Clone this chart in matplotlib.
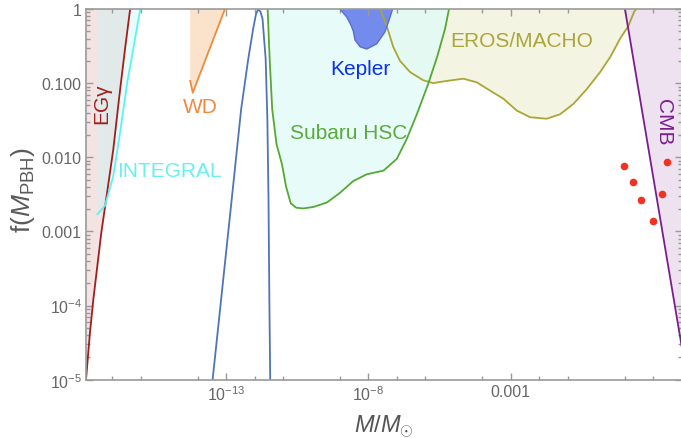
import numpy as np
import matplotlib
matplotlib.use("Agg")
import matplotlib.pyplot as plt
from matplotlib.ticker import FixedLocator, LogLocator, NullFormatter

plt.rcParams['font.family'] = ['Liberation Sans', 'DejaVu Sans']
plt.rcParams['mathtext.fontset'] = 'custom'
plt.rcParams['mathtext.rm'] = 'Liberation Sans'
plt.rcParams['mathtext.it'] = 'Liberation Sans:italic'
plt.rcParams['mathtext.bf'] = 'Liberation Sans:bold'

# all values below are log10(M/Msun), log10(f)
egamma_m = [-17.92, -17.78, -17.66, -17.52, -17.38, -17.21, -16.96, -16.76, -16.55, -16.37]
egamma_f = [-5.0, -4.36, -3.91, -3.46, -3.01, -2.56, -1.89, -1.21, -0.54, 0.0]

integral_m = [-17.52, -17.25, -16.96, -16.72, -16.47, -16.26, -16.12, -16.01]
integral_f = [-2.77, -2.65, -2.25, -1.66, -0.99, -0.54, -0.23, 0.0]

wd_m = [-14.26, -14.17, -13.04]
wd_f = [-0.97, -1.13, 0.0]

peak_m = [-13.47, -12.80, -12.47, -12.22, -12.05, -11.95, -11.87,
          -11.79, -11.72, -11.61, -11.55, -11.51, -11.48, -11.45]
peak_f = [-4.99, -2.56, -1.35, -0.67, -0.27, -0.07, 0.0,
          -0.04, -0.13, -0.67, -1.48, -2.56, -3.91, -4.99]

subaru_m = [-11.54, -11.47, -11.38, -11.23, -11.04, -10.89, -10.73, -10.54, -10.29, -9.93, -9.46,
            -9.00, -8.53, -8.06, -7.47, -7.00, -6.65, -6.30, -5.90, -5.59, -5.31, -5.17]
subaru_f = [0.0, -0.67, -1.35, -1.82, -2.09, -2.40, -2.62, -2.68, -2.69, -2.67, -2.61,
            -2.48, -2.32, -2.23, -2.18, -2.02, -1.75, -1.42, -1.01, -0.65, -0.27, 0.0]

kepler_m = [-9.00, -8.76, -8.61, -8.53, -8.47, -8.29, -8.06, -7.71, -7.42, -7.24, -7.15]
kepler_f = [0.0, -0.11, -0.22, -0.30, -0.42, -0.51, -0.54, -0.47, -0.31, -0.11, 0.0]

eros_m = [-7.59, -7.45, -7.30, -7.13, -6.89, -6.54, -6.08, -5.73, -5.25, -4.66, -4.19, -3.73, -3.26,
          -2.79, -2.32, -1.74, -1.27, -0.80, -0.33, 0.14, 0.49, 0.84, 1.13, 1.33, 1.40]
eros_f = [0.0, -0.13, -0.30, -0.51, -0.70, -0.85, -0.96, -1.00, -0.97, -0.94, -0.99, -1.10, -1.21,
          -1.37, -1.46, -1.48, -1.42, -1.28, -1.08, -0.85, -0.65, -0.40, -0.23, -0.04, 0.0]

cmb_m = [1.01, 3.2]
cmb_f = [0.0, -5.0]

dots_m = [0.99, 1.31, 1.58, 2.01, 2.50, 2.30]
dots_f = [-2.12, -2.33, -2.57, -2.86, -2.06, -2.50]

xmin, xmax = -17.92, 3.014


def p(a):
    return 10.0 ** np.asarray(a)


fig = plt.figure(figsize=(6.81, 4.39), dpi=100)
ax = fig.add_axes([86 / 681, 1 - 380.7 / 439, 596 / 681, 370.7 / 439])
ax.set_xscale('log')
ax.set_yscale('log')

# EG gamma
ax.fill(p(egamma_m + [xmin - 1, xmin - 1]), p(egamma_f + [0, -5]), color='#f2dcdc', alpha=0.8, lw=0)
ax.plot(p(egamma_m), p(egamma_f), color='#a51c1c', lw=1.3)

# INTEGRAL
ax.fill(p(integral_m + [integral_m[0]]), p(integral_f + [0]), color='#b8f8f8', alpha=0.3, lw=0)
ax.plot(p(integral_m), p(integral_f), color='#5ef2f2', lw=1.3)

# WD
ax.fill(p(wd_m + [wd_m[0]]), p(wd_f + [0]), color='#fbe2cb', lw=0)
ax.plot(p(wd_m), p(wd_f), color='#f08a3c', lw=1.3)

# EROS / MACHO
ax.fill(p(eros_m), p(eros_f), color='#f4f4e2', lw=0)
ax.plot(p(eros_m), p(eros_f), color='#aaa636', lw=1.3)

# Subaru HSC
ax.fill(p(subaru_m), p(subaru_f), color='#dffcf8', alpha=0.75, lw=0)
ax.plot(p(subaru_m), p(subaru_f), color='#56a833', lw=1.3)

# Kepler
ax.fill(p(kepler_m), p(kepler_f), color='#6a82ee', alpha=0.92, lw=0)
ax.plot(p(kepler_m), p(kepler_f), color='#5b6fc8', lw=1.0)

# CMB
ax.fill(p(cmb_m + [4, 4]), p(cmb_f + [-5, 0]), color='#e9d9ec', alpha=0.75, lw=0)
ax.plot(p(cmb_m), p(cmb_f), color='#7a1e8c', lw=1.3)

# peaked mass function
ax.plot(p(peak_m), p(peak_f), color='#4f74b8', lw=1.3)

ax.plot(p(dots_m), p(dots_f), 'o', ms=5.5, color='#ee3322', mec='none')

lab = dict(fontsize=15, ha='center', va='center')
ax.text(10 ** -2.61, 10 ** -0.43, 'EROS/MACHO', color='#aaa63a', **lab)
ax.text(10 ** -8.28, 10 ** -0.80, 'Kepler', color='#0a30f0', **lab)
ax.text(10 ** -8.69, 10 ** -1.66, 'Subaru HSC', color='#5aaa3c', **lab)
ax.text(10 ** -15.0, 10 ** -2.18, 'INTEGRAL', color='#66f0f0', **lab)
ax.text(10 ** -13.91, 10 ** -1.31, 'WD', color='#f08a3c', **lab)
ax.text(10 ** -17.36, 10 ** -1.27, 'EGγ', color='#a02020', rotation=90, **lab)
ax.text(10 ** 2.38, 10 ** -1.52, 'CMB', color='#7a1e8c', rotation=-90, **lab)

ax.set_xlim(10 ** xmin, 10 ** xmax)
ax.set_ylim(1e-5, 1)

ax.xaxis.set_major_locator(FixedLocator([1e-13, 1e-8, 1e-3]))
ax.set_xticklabels([r'$\mathregular{10^{-13}}$', r'$\mathregular{10^{-8}}$', '0.001'])
ax.xaxis.set_minor_locator(FixedLocator(p([-17, -16, -14, -12, -11, -9, -7, -6, -4, -2, -1, 1, 2])))
ax.xaxis.set_minor_formatter(NullFormatter())
ax.yaxis.set_major_locator(FixedLocator([1e-5, 1e-4, 1e-3, 1e-2, 1e-1, 1]))
ax.set_yticklabels([r'$\mathregular{10^{-5}}$', r'$\mathregular{10^{-4}}$', '0.001', '0.010', '0.100', '1'])
ax.yaxis.set_minor_locator(LogLocator(subs=np.arange(2, 10)))
ax.yaxis.set_minor_formatter(NullFormatter())

ax.tick_params(which='both', direction='in', top=True, right=True, color='#999999',
               labelcolor='#666666', labelsize=11.5, width=1)
ax.tick_params(which='major', length=5, pad=3)
ax.tick_params(which='minor', length=3)
for s in ax.spines.values():
    s.set_color('#999999')
    s.set_linewidth(1.2)

fig.text(384 / 681, 1 - 432 / 439, r'$M/M_{\odot}$', fontsize=17, color='#555555',
         ha='center', va='baseline')
fig.text(23 / 681, 1 - 190 / 439, r'$\mathregular{f(}M_{\mathregular{PBH}}\mathregular{)}$',
         fontsize=19, color='#5a5a5a', rotation=90, ha='center', va='center')

fig.savefig('out.png', dpi=100)
